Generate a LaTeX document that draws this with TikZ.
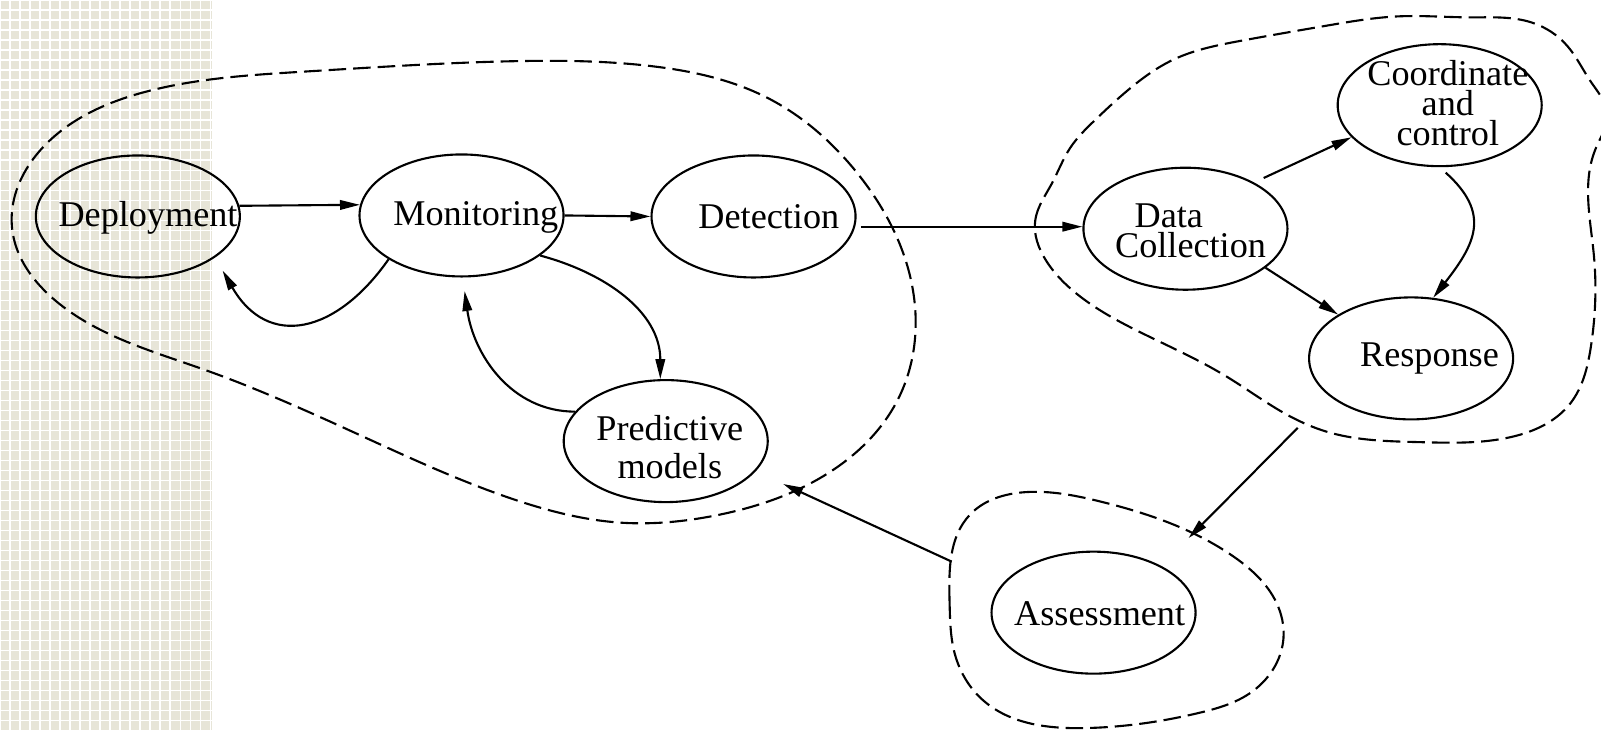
\documentclass[tikz,border=0pt]{standalone}
\usepackage{fontspec}
\setmainfont{Liberation Serif}
\usetikzlibrary{hobby,shapes.geometric,arrows.meta,calc,positioning}

\definecolor{paper}{RGB}{231,229,216}
\tikzset{
	stage/.style={draw, ellipse, minimum width=2.04cm, minimum height=1.22cm, inner sep=0pt, line width=0.6pt},
	lbl/.style={draw=none, fill=none, align=center, inner sep=0pt, font=\fontsize{10.3}{8.6}\selectfont},
	region/.style={draw, line width=0.6pt, dash pattern=on 5pt off 2pt, use Hobby shortcut, closed=true},
	flow/.style={->, line width=0.6pt},
	>={Triangle[length=2mm,width=0.95mm]}
}

\begin{document}
\begin{tikzpicture}[x=0.1021mm, y=-0.1021mm]
	\useasboundingbox (0,0) rectangle (1568,715);
	
	% left strip
	\fill[paper] (0,0) rectangle (208,715);
	\foreach \g in {0,...,21} \draw[white, line width=0.35pt] (\g*9.8,0) -- (\g*9.8,715);
	\foreach \g in {0,...,73} \draw[white, line width=0.35pt] (0,\g*9.8) -- (208,\g*9.8);
	
	% dashed groups
	\path[region] (12,225) .. (55,132) .. (150,88) .. (300,70) .. (500,60) .. (640,65) .. (750,95) .. (840,170) .. (895,290) .. (880,390) .. (800,470) .. (700,505) .. (610,512) .. (500,488) .. (350,425) .. (200,362) .. (55,295);
	\path[region] (1014,215) .. (1030,180) .. (1048,145) .. (1072,118) .. (1105,88) .. (1150,58) .. (1215,40) .. (1300,25) .. (1370,16) .. (1440,17) .. (1500,22) .. (1535,45) .. (1558,80) .. (1574,112) .. (1563,145) .. (1561,250) .. (1558,340) .. (1538,395) .. (1480,428) .. (1390,433) .. (1300,423) .. (1262,407) .. (1200,368) .. (1120,327) .. (1060,292) .. (1025,256);
	\path[region] (930,590) .. (950,504) .. (1004,482) .. (1077,491) .. (1208,545) .. (1250,590) .. (1257,625) .. (1224,679) .. (1175,698) .. (1065,713) .. (963,686) .. (935,640);
	
	% stages
	\node[stage] (dep) at (135,212) {};
	\node[stage] (mon) at (452,211) {};
	\node[stage] (det) at (738,212) {};
	\node[stage] (pred) at (652,432) {};
	\node[stage] (dc) at (1161,224) {};
	\node[stage] (cc) at (1410,103) {};
	\node[stage] (resp) at (1382,351) {};
	\node[stage] (assess) at (1071,600) {};
	
	\node[lbl] (dep-t) at (145,213) {Deployment};
	\node[lbl] (mon-t) at (466,213) {Monitoring};
	\node[lbl] (det-t) at (753,212) {Detection};
	\node[lbl] (pred-t) at (656,438) {Predictive\\[2.2pt]models};
	\node[lbl] (dc-t) at (1166,226) {Data\hspace*{1.2em}\\Collection};
	\node[lbl] (cc-t) at (1418,101) {Coordinate\\and\\control};
	\node[lbl] (resp-t) at (1400,351) {Response};
	\node[lbl] (assess-t) at (1077,601) {Assessment};
	
	% free ends
	\coordinate (detout) at (843,222);
	\coordinate (respout) at (1271,419);
	\coordinate (assessin) at (1164,527);
	\coordinate (assessout) at (932,550);
	\coordinate (predin) at (767,474);
	
	% flows
	\draw[flow] (dep.6) -- (mon.174);
	\draw[flow] (mon.east) -- (det.west);
	\draw[flow] (detout) -- (detout -| dc.west);
	\draw[flow] (mon.211) to[out=-125, in=-60, looseness=1.4] ($(dep)+(83,53)$);
	\draw[flow] (mon.-27) to[out=-15, in=90] (pred.95);
	\draw[flow] (pred.162) to[out=180, in=-82] ($(mon)+(3,74)$);
	\draw[flow, shorten <=3pt] (dc.34) -- (cc.200);
	\draw[flow] (dc.-26) -- (resp.149);
	\draw[flow, shorten <=2.3pt] (cc.south) to[out=-42, in=52, looseness=1.35] (resp.70);
	\draw[flow] (respout) -- (assessin);
	\draw[flow] (assessout) -- (predin);
	
\end{tikzpicture}
\end{document}
